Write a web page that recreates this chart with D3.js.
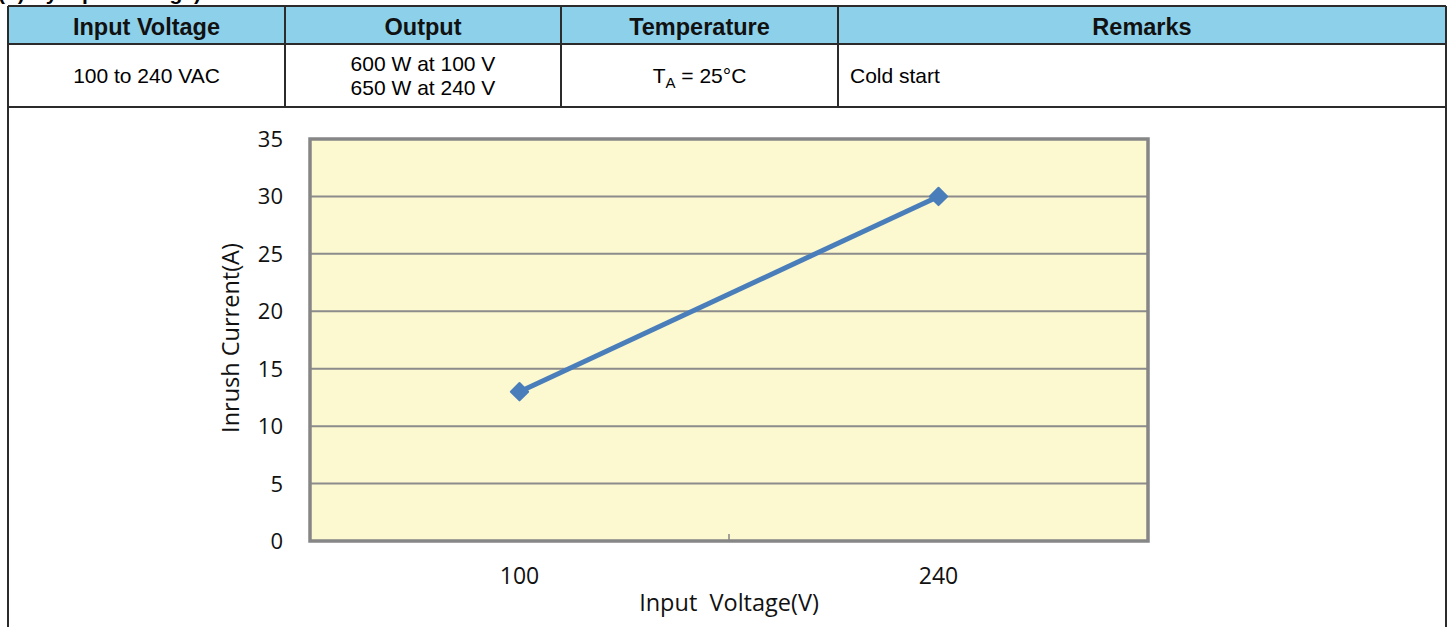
<!DOCTYPE html>
<html>
<head>
<meta charset="utf-8">
<script src="https://cdn.jsdelivr.net/npm/d3@7"></script>
<style>
  body { margin: 0; background: #fff; }
  svg { display: block; }
</style>
</head>
<body>
<svg width="1450" height="627"></svg>
<script>
// table contents
var headers = ["Input Voltage", "Output", "Temperature", "Remarks"];
var colEdges = [8, 285, 561, 838, 1446];

// chart data
var voltages = ["100", "240"];
var inrush = [13, 30];
var yTicks = [0, 5, 10, 15, 20, 25, 30, 35];

var svg = d3.select("svg");

// caption, mostly cut off at the top edge like the source
svg.append("text")
    .attr("x", -2).attr("y", 0)
    .style("font", "bold 21px 'Liberation Sans', Arial, sans-serif")
    .text("(b) By input voltage)");

// ---- table ----
var tbl = svg.append("g");
var headTop = 6, headBot = 44, rowBot = 107;

tbl.selectAll("rect.head")
  .data(headers)
  .enter().append("rect")
    .attr("x", function(d, i) { return colEdges[i]; })
    .attr("y", headTop)
    .attr("width", function(d, i) { return colEdges[i + 1] - colEdges[i]; })
    .attr("height", headBot - headTop)
    .attr("fill", "#8dd0ea");

tbl.selectAll("text.head")
  .data(headers)
  .enter().append("text")
    .attr("x", function(d, i) { return (colEdges[i] + colEdges[i + 1]) / 2; })
    .attr("y", 35)
    .attr("text-anchor", "middle")
    .style("font", "bold 23.5px 'Liberation Sans', Arial, sans-serif")
    .attr("fill", "#111")
    .text(function(d) { return d; });

var bodyFont = "21px 'Liberation Sans', Arial, sans-serif";

tbl.append("text")
    .attr("x", (colEdges[0] + colEdges[1]) / 2).attr("y", 83)
    .attr("text-anchor", "middle").style("font", bodyFont)
    .text("100 to 240 VAC");

tbl.append("text")
    .attr("x", (colEdges[1] + colEdges[2]) / 2).attr("y", 71)
    .attr("text-anchor", "middle").style("font", bodyFont)
    .text("600 W at 100 V");
tbl.append("text")
    .attr("x", (colEdges[1] + colEdges[2]) / 2).attr("y", 95)
    .attr("text-anchor", "middle").style("font", bodyFont)
    .text("650 W at 240 V");

var temp = tbl.append("text")
    .attr("x", (colEdges[2] + colEdges[3]) / 2).attr("y", 83)
    .attr("text-anchor", "middle").style("font", bodyFont);
temp.append("tspan").text("T");
temp.append("tspan").attr("dy", 5).style("font-size", "15px").text("A");
temp.append("tspan").attr("dy", -5).text(" = 25°C");

tbl.append("text")
    .attr("x", colEdges[3] + 12).attr("y", 83)
    .style("font", bodyFont)
    .text("Cold start");

// table lines
var lc = "#2b2b2b";
[headTop, headBot, rowBot].forEach(function(y) {
  tbl.append("line").attr("x1", colEdges[0]).attr("x2", colEdges[4])
    .attr("y1", y).attr("y2", y).attr("stroke", lc).attr("stroke-width", 2);
});
colEdges.forEach(function(x, i) {
  tbl.append("line").attr("x1", x).attr("x2", x)
    .attr("y1", headTop)
    .attr("y2", (i == 0 || i == colEdges.length - 1) ? 627 : rowBot)
    .attr("stroke", lc).attr("stroke-width", 2);
});

// ---- chart ----
var plot = {left: 310, right: 1148, top: 139, bottom: 541};

var x = d3.scaleBand()
    .domain(voltages)
    .range([plot.left, plot.right]);

var y = d3.scaleLinear()
    .domain([0, 35])
    .range([plot.bottom, plot.top]);

svg.append("rect")
    .attr("x", plot.left).attr("y", plot.top)
    .attr("width", plot.right - plot.left)
    .attr("height", plot.bottom - plot.top)
    .attr("fill", "#fcf8d0");

// gridlines
svg.append("g").selectAll("line")
  .data(yTicks.filter(function(t) { return t > 0 && t < 35; }))
  .enter().append("line")
    .attr("x1", plot.left).attr("x2", plot.right)
    .attr("y1", function(d) { return y(d); })
    .attr("y2", function(d) { return y(d); })
    .attr("stroke", "#8c8c8c")
    .attr("stroke-width", 2);

// plot frame
svg.append("rect")
    .attr("x", plot.left).attr("y", plot.top)
    .attr("width", plot.right - plot.left)
    .attr("height", plot.bottom - plot.top)
    .attr("fill", "none")
    .attr("stroke", "#868686")
    .attr("stroke-width", 3.5);

// category divider tick on x axis
svg.append("g").selectAll("line")
  .data(voltages.slice(1))
  .enter().append("line")
    .attr("x1", function(d) { return x(d); })
    .attr("x2", function(d) { return x(d); })
    .attr("y1", plot.bottom - 7).attr("y2", plot.bottom)
    .attr("stroke", "#868686").attr("stroke-width", 1.5);

var chartFont = "22px 'Open Sans', 'Noto Sans', sans-serif";
var labelFont = "23.5px 'Open Sans', 'Noto Sans', sans-serif";

// y tick labels
svg.append("g").selectAll("text")
  .data(yTicks)
  .enter().append("text")
    .attr("x", 283)
    .attr("y", function(d) { return y(d) + 8; })
    .attr("text-anchor", "end")
    .style("font", chartFont)
    .attr("fill", "#111")
    .text(function(d) { return d; });

// x tick labels
svg.append("g").selectAll("text")
  .data(voltages)
  .enter().append("text")
    .attr("x", function(d) { return x(d) + x.bandwidth() / 2; })
    .attr("y", 584)
    .attr("text-anchor", "middle")
    .style("font", "23px 'Open Sans', 'Noto Sans', sans-serif")
    .attr("fill", "#111")
    .text(function(d) { return d; });

svg.append("text")
    .attr("x", (plot.left + plot.right) / 2).attr("y", 611)
    .attr("text-anchor", "middle")
    .style("font", labelFont)
    .attr("fill", "#111")
    .text("Input\u00a0\u00a0Voltage(V)");

svg.append("text")
    .attr("transform", "translate(239," + ((plot.top + plot.bottom) / 2 - 2) + ") rotate(-90)")
    .attr("text-anchor", "middle")
    .style("font", labelFont)
    .attr("fill", "#111")
    .text("Inrush Current(A)");

// series
var pts = voltages.map(function(v, i) { return [x(v) + x.bandwidth() / 2, y(inrush[i])]; });

svg.append("path")
    .attr("d", d3.line()(pts))
    .attr("fill", "none")
    .attr("stroke", "#4a7ebb")
    .attr("stroke-width", 5);

svg.append("g").selectAll("path")
  .data(pts)
  .enter().append("path")
    .attr("transform", function(d) { return "translate(" + d[0] + "," + d[1] + ") rotate(45)"; })
    .attr("d", d3.symbol().type(d3.symbolSquare).size(150))
    .attr("fill", "#4a7ebb")
    .attr("stroke", "#4a7ebb")
    .attr("stroke-width", 2)
    .attr("stroke-linejoin", "round");
</script>
</body>
</html>
